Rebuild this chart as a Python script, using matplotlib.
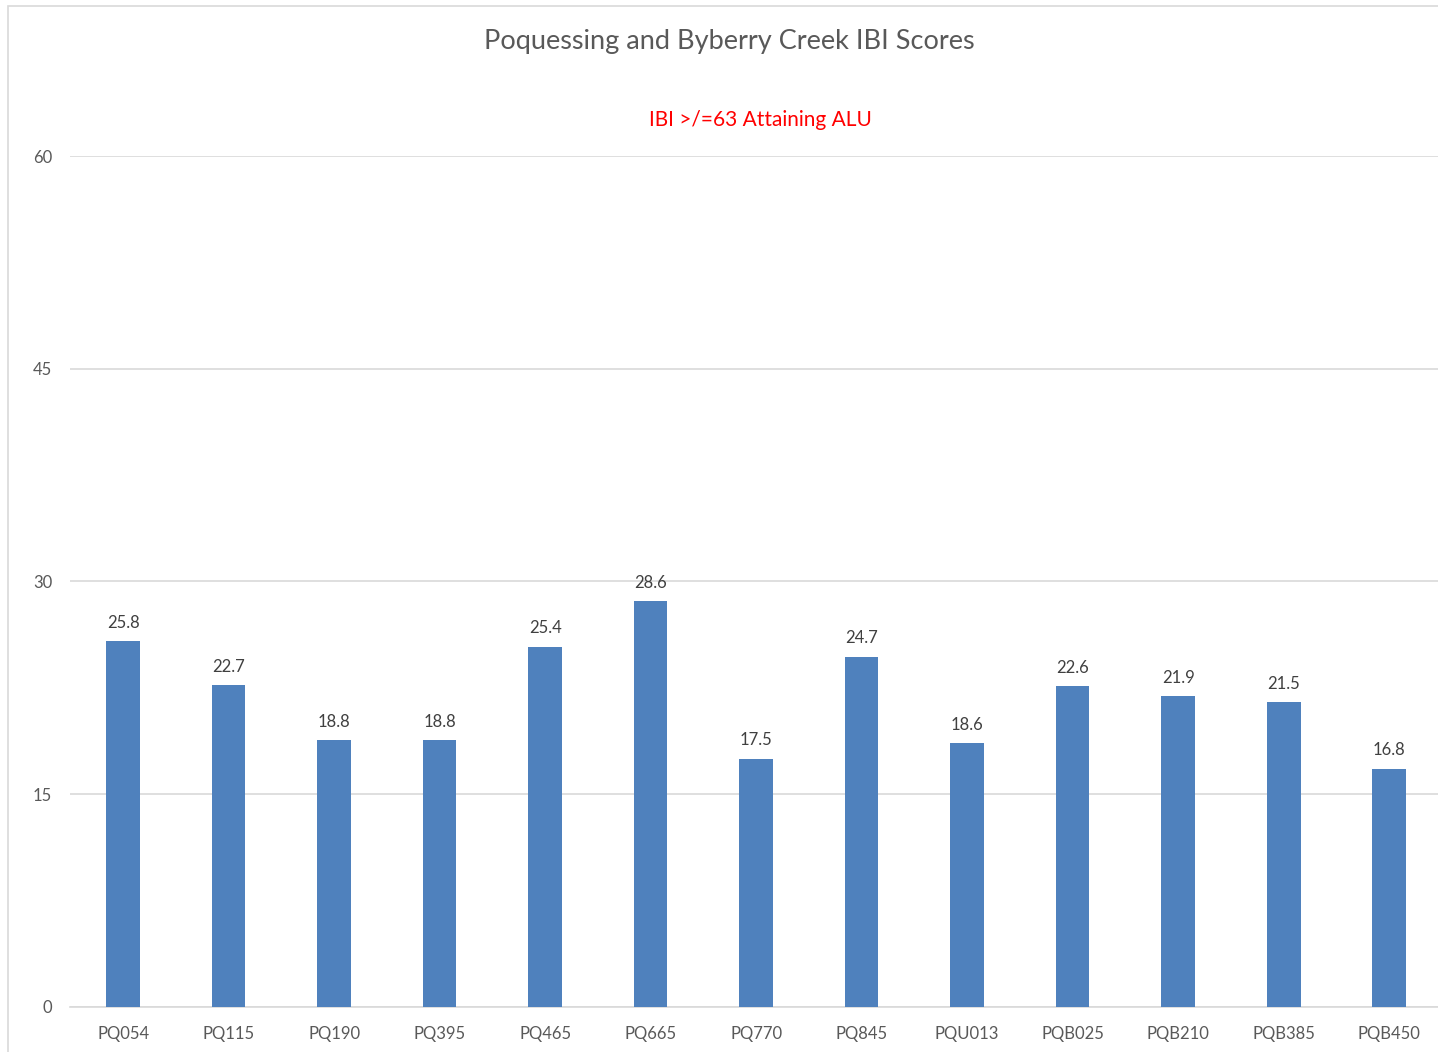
#!/usr/bin/env python3

import matplotlib
matplotlib.use("Agg")
import matplotlib.pyplot as plt
from matplotlib.patches import Rectangle

sites = ["PQ054", "PQ115", "PQ190", "PQ395", "PQ465", "PQ665", "PQ770",
         "PQ845", "PQU013", "PQB025", "PQB210", "PQB385", "PQB450"]
ibi = [25.8, 22.7, 18.8, 18.8, 25.4, 28.6, 17.5, 24.7, 18.6, 22.6, 21.9, 21.5, 16.8]
yticks = [0, 15, 30, 45, 60]

def main():

    plt.rcParams["font.family"] = ["Lato", "DejaVu Sans"]
    grey = "#595959"

    fig = plt.figure(figsize = (14.38, 10.52), dpi = 100)
    # chart border like the spreadsheet frame
    fig.patches.append(Rectangle((8 / 1438, -0.01), 1.1, (1052 - 6) / 1052 + 0.01,
                                 transform = fig.transFigure, fill = False,
                                 edgecolor = "#D9D9D9", linewidth = 1.2))

    ax = fig.add_axes([0.0489, 0.0428, 0.9538, 0.8089])
    x = list(range(len(sites)))
    bars = ax.bar(x, ibi, width = 0.32, color = "#4F81BD", zorder = 3)
    for b, v in zip(bars, ibi):
        ax.annotate("{:.1f}".format(v), (b.get_x() + b.get_width() / 2, v),
                    xytext = (0, 7.5), textcoords = "offset points",
                    ha = "center", va = "bottom", fontsize = 12, color = "#404040")

    ax.set_xlim(-0.5, len(sites) - 0.5)
    ax.set_ylim(0, 60)
    ax.set_yticks(yticks)
    ax.set_yticklabels([str(t) for t in yticks])
    ax.set_xticks(x)
    ax.set_xticklabels(sites)
    ax.tick_params(axis = "both", length = 0, labelsize = 12, labelcolor = grey)
    ax.tick_params(axis = "x", pad = 13.5)
    ax.tick_params(axis = "y", pad = 13)
    ax.grid(axis = "y", color = "#D9D9D9", linewidth = 1.2, zorder = 0)
    for s in ["top", "right", "left"]:
        ax.spines[s].set_visible(False)
    ax.spines["bottom"].set_color("#D9D9D9")
    ax.spines["bottom"].set_linewidth(1.2)

    fig.text(729 / 1438, 1 - 41 / 1052, "Poquessing and Byberry Creek IBI Scores",
             ha = "center", va = "center", fontsize = 19.5, color = grey)
    fig.text(760 / 1438, 1 - 120 / 1052, "IBI >/=63 Attaining ALU",
             ha = "center", va = "center", fontsize = 15, color = "#FF0000")

    plt.savefig("out.png", dpi = 100)

main()
